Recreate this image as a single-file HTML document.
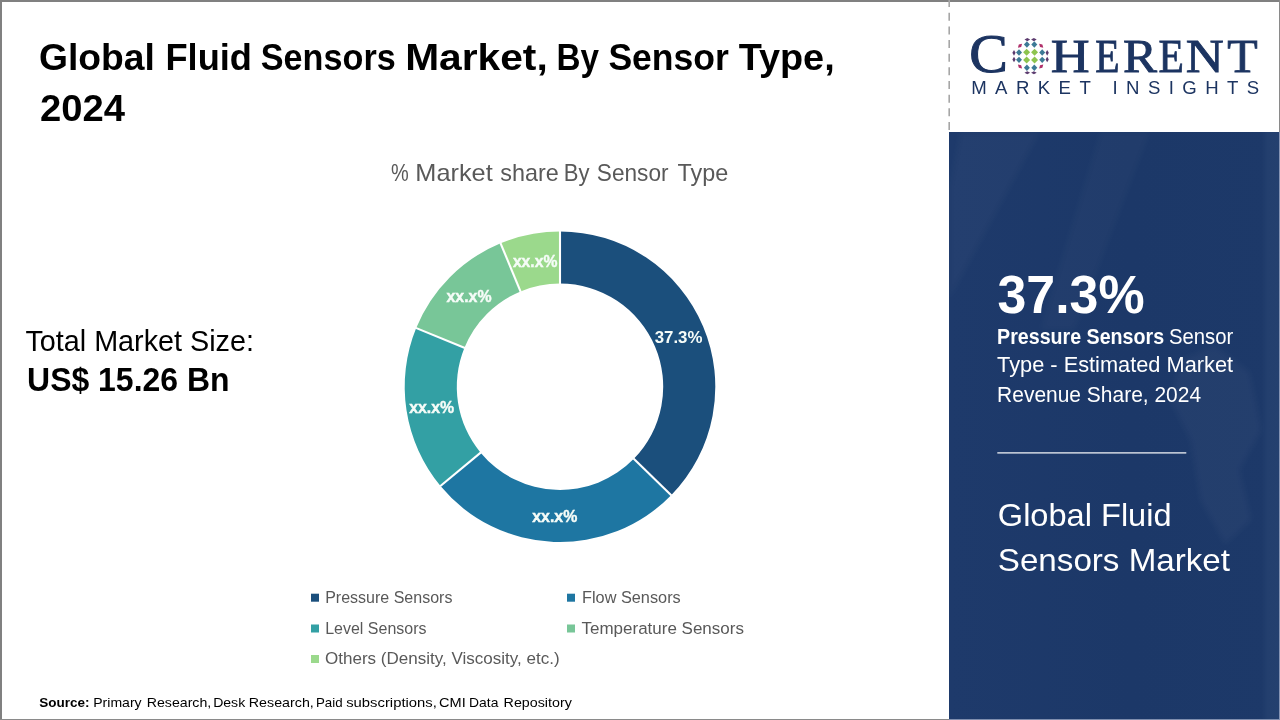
<!DOCTYPE html>
<html lang="en">
<head>
<meta charset="utf-8">
<title>Global Fluid Sensors Market, By Sensor Type, 2024</title>
<style>
html,body{margin:0;padding:0;background:#fff;}
body{width:1280px;height:720px;overflow:hidden;position:relative;font-family:"Liberation Sans",sans-serif;}
#slide{position:absolute;left:0;top:0;width:1280px;height:720px;display:block;}
text{font-family:"Liberation Sans",sans-serif;}
.b{font-weight:bold;}
.serif{font-family:"Liberation Serif",serif;}
.g{fill:#595959;}
.w{fill:#ffffff;}
.lab{font-weight:bold;font-size:17px;fill:#f6fcf8;}
.lx{stroke:#f6fcf8;stroke-width:0.45px;}
</style>
</head>
<body>
<svg id="slide" width="1280" height="720" viewBox="0 0 1280 720">
<defs>
<linearGradient id="pg" x1="0" y1="0" x2="1" y2="0">
<stop offset="0" stop-color="#1e3a6b"/><stop offset="0.55" stop-color="#1c3868"/><stop offset="1" stop-color="#1d3969"/>
</linearGradient>
<filter id="bl" x="-20%" y="-20%" width="140%" height="140%"><feGaussianBlur stdDeviation="3"/></filter>
<clipPath id="pc"><rect x="949" y="132" width="331" height="588"/></clipPath>
<linearGradient id="sg" x1="0" y1="0" x2="1" y2="0"><stop offset="0" stop-color="#233f6e" stop-opacity="0"/><stop offset="0.35" stop-color="#233f6e" stop-opacity="1"/><stop offset="1" stop-color="#24406f" stop-opacity="1"/></linearGradient>
</defs>
<rect x="0" y="0" width="1280" height="720" fill="#ffffff"/>
<!-- right panel -->
<rect x="949" y="132" width="331" height="588" fill="url(#pg)"/>
<g id="tex" fill="#ffffff" clip-path="url(#pc)"><g filter="url(#bl)">
<polygon points="960,132 1040,132 949,300 949,190" opacity="0.028"/>
<polygon points="1100,132 1150,132 1075,330 1040,330" opacity="0.025"/>
<polygon points="1180,360 1215,345 1250,372 1262,430 1240,470 1252,520 1225,545 1200,500 1190,440 1170,400" opacity="0.03"/>
</g></g>
<rect x="1261" y="132" width="18" height="588" fill="url(#sg)"/>
<!-- frame -->
<rect x="0" y="0" width="1280" height="2" fill="#808080"/>
<rect x="0" y="0" width="2" height="720" fill="#808080"/>
<rect x="0" y="719" width="949" height="1" fill="#8a8a8a"/>
<rect x="949" y="719" width="331" height="1" fill="#7f8eae"/>
<rect x="1279" y="0" width="1" height="132" fill="#8a8a8a"/>
<rect x="1279" y="132" width="1" height="588" fill="#8593b3"/>
<line x1="949.2" y1="-0.9" x2="949.2" y2="131" stroke="#a6a6a6" stroke-width="1.6" stroke-dasharray="8 5.65"/>

<!-- title -->
<text id="t1" class="b" y="69.6" font-size="37.5" fill="#000"><tspan x="39.07" textLength="115.86" lengthAdjust="spacingAndGlyphs">Global</tspan> <tspan x="165.48" textLength="86.51" lengthAdjust="spacingAndGlyphs">Fluid</tspan> <tspan x="260.82" textLength="134.89" lengthAdjust="spacingAndGlyphs">Sensors</tspan> <tspan x="405.18" textLength="142.55" lengthAdjust="spacingAndGlyphs">Market,</tspan> <tspan x="556.48" textLength="42.50" lengthAdjust="spacingAndGlyphs">By</tspan> <tspan x="608.38" textLength="120.56" lengthAdjust="spacingAndGlyphs">Sensor</tspan> <tspan x="738.69" textLength="95.97" lengthAdjust="spacingAndGlyphs">Type,</tspan></text>
<text id="t2" class="b" x="40" y="120.6" font-size="37.5" textLength="85" lengthAdjust="spacingAndGlyphs" fill="#000">2024</text>
<text id="sub" class="g" y="181.4" font-size="24"><tspan x="391.09" textLength="17.72" lengthAdjust="spacingAndGlyphs">%</tspan> <tspan x="415.32" textLength="77.36" lengthAdjust="spacingAndGlyphs">Market</tspan> <tspan x="500.25" textLength="58.49" lengthAdjust="spacingAndGlyphs">share</tspan> <tspan x="563.79" textLength="25.75" lengthAdjust="spacingAndGlyphs">By</tspan> <tspan x="596.87" textLength="71.70" lengthAdjust="spacingAndGlyphs">Sensor</tspan> <tspan x="677.59" textLength="50.73" lengthAdjust="spacingAndGlyphs">Type</tspan></text>
<text id="tm1" x="25.4" y="350.5" font-size="29" textLength="228.6" lengthAdjust="spacingAndGlyphs" fill="#000">Total Market Size:</text>
<text id="tm2" class="b" x="27.1" y="390.7" font-size="33" textLength="202.4" lengthAdjust="spacingAndGlyphs" fill="#000">US$ 15.26 Bn</text>

<!-- donut -->
<g id="donut">
<path d="M560.00 231.45A155.3 155.3 0 0 1 671.15 495.21L633.86 458.83A103.2 103.2 0 0 0 560.00 283.55Z" fill="#1b4f7c"/>
<path d="M671.15 495.21A155.3 155.3 0 0 1 440.51 485.95L480.60 452.67A103.2 103.2 0 0 0 633.86 458.83Z" fill="#1e76a2"/>
<path d="M440.51 485.95A155.3 155.3 0 0 1 416.21 328.07L464.45 347.76A103.2 103.2 0 0 0 480.60 452.67Z" fill="#33a0a4"/>
<path d="M416.21 328.07A155.3 155.3 0 0 1 500.57 243.27L520.51 291.41A103.2 103.2 0 0 0 464.45 347.76Z" fill="#78c698"/>
<path d="M500.57 243.27A155.3 155.3 0 0 1 560.00 231.45L560.00 283.55A103.2 103.2 0 0 0 520.51 291.41Z" fill="#9bd98c"/>
<line x1="560.00" y1="230.95" x2="560.00" y2="284.05" stroke="#fff" stroke-width="2.1"/>
<line x1="671.50" y1="495.56" x2="633.50" y2="458.48" stroke="#fff" stroke-width="2.1"/>
<line x1="440.13" y1="486.27" x2="480.98" y2="452.35" stroke="#fff" stroke-width="2.1"/>
<line x1="415.75" y1="327.88" x2="464.91" y2="347.95" stroke="#fff" stroke-width="2.1"/>
<line x1="500.38" y1="242.81" x2="520.70" y2="291.87" stroke="#fff" stroke-width="2.1"/>
</g>
<text id="l1" class="lab" x="654.7" y="343" textLength="47.8" lengthAdjust="spacingAndGlyphs">37.3%</text>
<text id="l2" class="lab lx" x="532.3" y="522.3" textLength="45" lengthAdjust="spacingAndGlyphs">xx.x%</text>
<text id="l3" class="lab lx" x="409.2" y="413.1" textLength="45" lengthAdjust="spacingAndGlyphs">xx.x%</text>
<text id="l4" class="lab lx" x="446.5" y="301.8" textLength="45" lengthAdjust="spacingAndGlyphs">xx.x%</text>
<text id="l5" class="lab lx" x="512.9" y="267" textLength="44.5" lengthAdjust="spacingAndGlyphs">xx.x%</text>

<!-- legend -->
<rect x="311" y="593.7" width="8" height="8" fill="#1b4f7c"/>
<rect x="567" y="593.7" width="8" height="8" fill="#1e76a2"/>
<rect x="311" y="624.5" width="8" height="8" fill="#33a0a4"/>
<rect x="567" y="624.5" width="8" height="8" fill="#78c698"/>
<rect x="311" y="655" width="8" height="8" fill="#9bd98c"/>
<text id="g1" class="g" x="325.2" y="602.8" font-size="16.8" textLength="127.2" lengthAdjust="spacingAndGlyphs">Pressure Sensors</text>
<text id="g2" class="g" x="582" y="602.8" font-size="16.8" textLength="98.7" lengthAdjust="spacingAndGlyphs">Flow Sensors</text>
<text id="g3" class="g" x="325.2" y="633.5" font-size="16.8" textLength="101.3" lengthAdjust="spacingAndGlyphs">Level Sensors</text>
<text id="g4" class="g" x="581.5" y="633.5" font-size="16.8" textLength="162.4" lengthAdjust="spacingAndGlyphs">Temperature Sensors</text>
<text id="g5" class="g" x="325" y="663.8" font-size="16.8" textLength="234.6" lengthAdjust="spacingAndGlyphs">Others (Density, Viscosity, etc.)</text>

<!-- source -->
<text id="s1" class="b" x="39.2" y="706.9" font-size="13.6" textLength="50.3" lengthAdjust="spacingAndGlyphs" fill="#000">Source:</text>
<text id="s2" y="706.9" font-size="13.6" fill="#000"><tspan x="93.25" textLength="48.38" lengthAdjust="spacingAndGlyphs">Primary</tspan> <tspan x="146.74" textLength="64.53" lengthAdjust="spacingAndGlyphs">Research,</tspan> <tspan x="213.15" textLength="32.03" lengthAdjust="spacingAndGlyphs">Desk</tspan> <tspan x="248.83" textLength="64.95" lengthAdjust="spacingAndGlyphs">Research,</tspan> <tspan x="315.91" textLength="26.65" lengthAdjust="spacingAndGlyphs">Paid</tspan> <tspan x="346.19" textLength="90.64" lengthAdjust="spacingAndGlyphs">subscriptions,</tspan> <tspan x="439.06" textLength="26.68" lengthAdjust="spacingAndGlyphs">CMI</tspan> <tspan x="469.06" textLength="29.34" lengthAdjust="spacingAndGlyphs">Data</tspan> <tspan x="503.63" textLength="68.20" lengthAdjust="spacingAndGlyphs">Repository</tspan></text>

<!-- logo -->
<text id="lc" class="serif" x="969.3" y="72.4" font-size="54.5" textLength="38.6" lengthAdjust="spacingAndGlyphs" fill="#1c3461" stroke="#1c3461" stroke-width="1">C</text>
<text id="lh" class="serif" y="72.2" font-size="46.0" fill="#1c3461" stroke="#1c3461" stroke-width="0.8"><tspan x="1050.85" textLength="38.93" lengthAdjust="spacingAndGlyphs">H</tspan><tspan x="1095.35" textLength="24.33" lengthAdjust="spacingAndGlyphs">E</tspan><tspan x="1123.13" textLength="34.05" lengthAdjust="spacingAndGlyphs">R</tspan><tspan x="1158.60" textLength="25.36" lengthAdjust="spacingAndGlyphs">E</tspan><tspan x="1185.88" textLength="38.03" lengthAdjust="spacingAndGlyphs">N</tspan><tspan x="1227.30" textLength="30.43" lengthAdjust="spacingAndGlyphs">T</tspan></text>
<g id="globe">
<polygon points="-3.50,0 0,-3.50 3.50,0 0,3.50" fill="#8dc44f" transform="translate(1026.65 52.20) rotate(0)"/>
<polygon points="-3.00,0 0,-3.20 3.00,0 0,3.20" fill="#3d7a96" transform="translate(1026.90 44.55) rotate(0)"/>
<polygon points="-3.00,0 0,-3.20 3.00,0 0,3.20" fill="#3d7a96" transform="translate(1019.00 52.45) rotate(0)"/>
<polygon points="-2.80,0 0,-1.60 2.80,0 0,1.60" fill="#5b3a6e" transform="translate(1027.30 39.55) rotate(0)"/>
<polygon points="-1.60,0 0,-2.80 1.60,0 0,2.80" fill="#5b3a6e" transform="translate(1014.00 52.85) rotate(0)"/>
<polygon points="-2.90,0 0,-1.70 2.90,0 0,1.70" fill="#b0306a" transform="translate(1020.00 45.75) rotate(-45)"/>
<polygon points="-3.50,0 0,-3.50 3.50,0 0,3.50" fill="#8dc44f" transform="translate(1026.65 60.10) rotate(0)"/>
<polygon points="-3.00,0 0,-3.20 3.00,0 0,3.20" fill="#3d7a96" transform="translate(1026.90 67.75) rotate(0)"/>
<polygon points="-3.00,0 0,-3.20 3.00,0 0,3.20" fill="#3d7a96" transform="translate(1019.00 59.85) rotate(0)"/>
<polygon points="-2.80,0 0,-1.60 2.80,0 0,1.60" fill="#5b3a6e" transform="translate(1027.30 72.75) rotate(0)"/>
<polygon points="-1.60,0 0,-2.80 1.60,0 0,2.80" fill="#5b3a6e" transform="translate(1014.00 59.45) rotate(0)"/>
<polygon points="-2.90,0 0,-1.70 2.90,0 0,1.70" fill="#b0306a" transform="translate(1020.00 66.55) rotate(45)"/>
<polygon points="-3.50,0 0,-3.50 3.50,0 0,3.50" fill="#8dc44f" transform="translate(1034.55 52.20) rotate(0)"/>
<polygon points="-3.00,0 0,-3.20 3.00,0 0,3.20" fill="#3d7a96" transform="translate(1034.30 44.55) rotate(0)"/>
<polygon points="-3.00,0 0,-3.20 3.00,0 0,3.20" fill="#3d7a96" transform="translate(1042.20 52.45) rotate(0)"/>
<polygon points="-2.80,0 0,-1.60 2.80,0 0,1.60" fill="#5b3a6e" transform="translate(1033.90 39.55) rotate(0)"/>
<polygon points="-1.60,0 0,-2.80 1.60,0 0,2.80" fill="#5b3a6e" transform="translate(1047.20 52.85) rotate(0)"/>
<polygon points="-2.90,0 0,-1.70 2.90,0 0,1.70" fill="#b0306a" transform="translate(1041.20 45.75) rotate(45)"/>
<polygon points="-3.50,0 0,-3.50 3.50,0 0,3.50" fill="#8dc44f" transform="translate(1034.55 60.10) rotate(0)"/>
<polygon points="-3.00,0 0,-3.20 3.00,0 0,3.20" fill="#3d7a96" transform="translate(1034.30 67.75) rotate(0)"/>
<polygon points="-3.00,0 0,-3.20 3.00,0 0,3.20" fill="#3d7a96" transform="translate(1042.20 59.85) rotate(0)"/>
<polygon points="-2.80,0 0,-1.60 2.80,0 0,1.60" fill="#5b3a6e" transform="translate(1033.90 72.75) rotate(0)"/>
<polygon points="-1.60,0 0,-2.80 1.60,0 0,2.80" fill="#5b3a6e" transform="translate(1047.20 59.45) rotate(0)"/>
<polygon points="-2.90,0 0,-1.70 2.90,0 0,1.70" fill="#b0306a" transform="translate(1041.20 66.55) rotate(-45)"/>
</g>
<text id="lm" x="971.2" y="94.4" font-size="18.6" textLength="288" lengthAdjust="spacing" fill="#1c3461">MARKET INSIGHTS</text>

<!-- panel text -->
<text id="p1" class="b w" x="997.5" y="313.3" font-size="53" textLength="147" lengthAdjust="spacingAndGlyphs">37.3%</text>
<text id="p2" class="b w" x="997.1" y="343.7" font-size="21.8" textLength="167" lengthAdjust="spacingAndGlyphs">Pressure Sensors</text>
<text id="p2b" class="w" x="1169" y="343.7" font-size="21.8" textLength="64.3" lengthAdjust="spacingAndGlyphs">Sensor</text>
<text id="p3" class="w" x="997.1" y="372.3" font-size="21.8" textLength="236" lengthAdjust="spacingAndGlyphs">Type - Estimated Market</text>
<text id="p4" class="w" x="997.1" y="401.6" font-size="21.8" textLength="204" lengthAdjust="spacingAndGlyphs">Revenue Share, 2024</text>
<rect x="997.3" y="452.3" width="189" height="1.2" fill="#ffffff"/>
<text id="p5" class="w" x="997.8" y="526.3" font-size="31.5" textLength="173.8" lengthAdjust="spacingAndGlyphs">Global Fluid</text>
<text id="p6" class="w" x="997.8" y="571.2" font-size="31.5" textLength="232.2" lengthAdjust="spacingAndGlyphs">Sensors Market</text>
</svg>
</body>
</html>
